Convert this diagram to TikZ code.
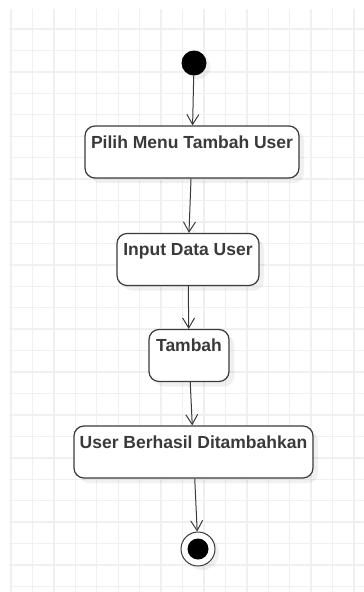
\documentclass[tikz,border=0pt]{standalone}
\usepackage{fontspec}
\setmainfont{Liberation Sans}
\usetikzlibrary{arrows.meta,shadows}
\definecolor{gridline}{HTML}{F0F0F0}
\definecolor{edge}{HTML}{3A3A3A}
\begin{document}
\begin{tikzpicture}[x=1pt,y=-1pt,
	activity/.style={draw=edge,line width=1.2pt,rounded corners=10pt,fill=white,
		drop shadow={shadow xshift=5pt,shadow yshift=-5pt,opacity=0.12},
		minimum height=52pt,inner ysep=0pt,text height=22pt,text depth=30pt,
		text=edge,font=\fontsize{17.5}{20}\selectfont\bfseries},
	flow/.style={draw=edge,line width=1pt,-{Straight Barb[length=10pt,width=12pt]}}]
	\useasboundingbox (0,0) rectangle (364,592);
	% background grid
	\foreach \i in {0,...,16}
		\draw[gridline,line width=1.4pt] (11+21.44*\i,9) -- (11+21.44*\i,592);
	\foreach \j in {0,...,26}
		\draw[gridline,line width=1.4pt] (9,29+21.44*\j) -- (364,29+21.44*\j);
	% start and end
	\node[circle,fill=black,minimum size=25pt,inner sep=0pt,
		drop shadow={shadow xshift=4pt,shadow yshift=-4pt,opacity=0.12}] (start) at (194,63) {};
	\node[circle,draw=edge,line width=1pt,fill=white,minimum size=34pt,inner sep=0pt,
		drop shadow={shadow xshift=4pt,shadow yshift=-4pt,opacity=0.12}] (end) at (198,549) {};
	\node[circle,fill=black,minimum size=21pt,inner sep=0pt] (endin) at (end) {};
	% activities
	\node[activity,minimum width=214pt] (pilih) at (192,152) {Pilih Menu Tambah User};
	\node[activity,minimum width=142pt] (input) at (188,259.5) {Input Data User};
	\node[activity,minimum width=80pt] (tambah) at (189,355.5) {Tambah};
	\node[activity,minimum width=239pt] (berhasil) at (193.5,452) {User Berhasil Ditambahkan};
	% flows
	\draw[flow] (start) -- (pilih);
	\draw[flow] (pilih) -- (input);
	\draw[flow] (input) -- (tambah);
	\draw[flow] (tambah) -- (berhasil);
	\draw[flow] (berhasil) -- (end);
\end{tikzpicture}
\end{document}
